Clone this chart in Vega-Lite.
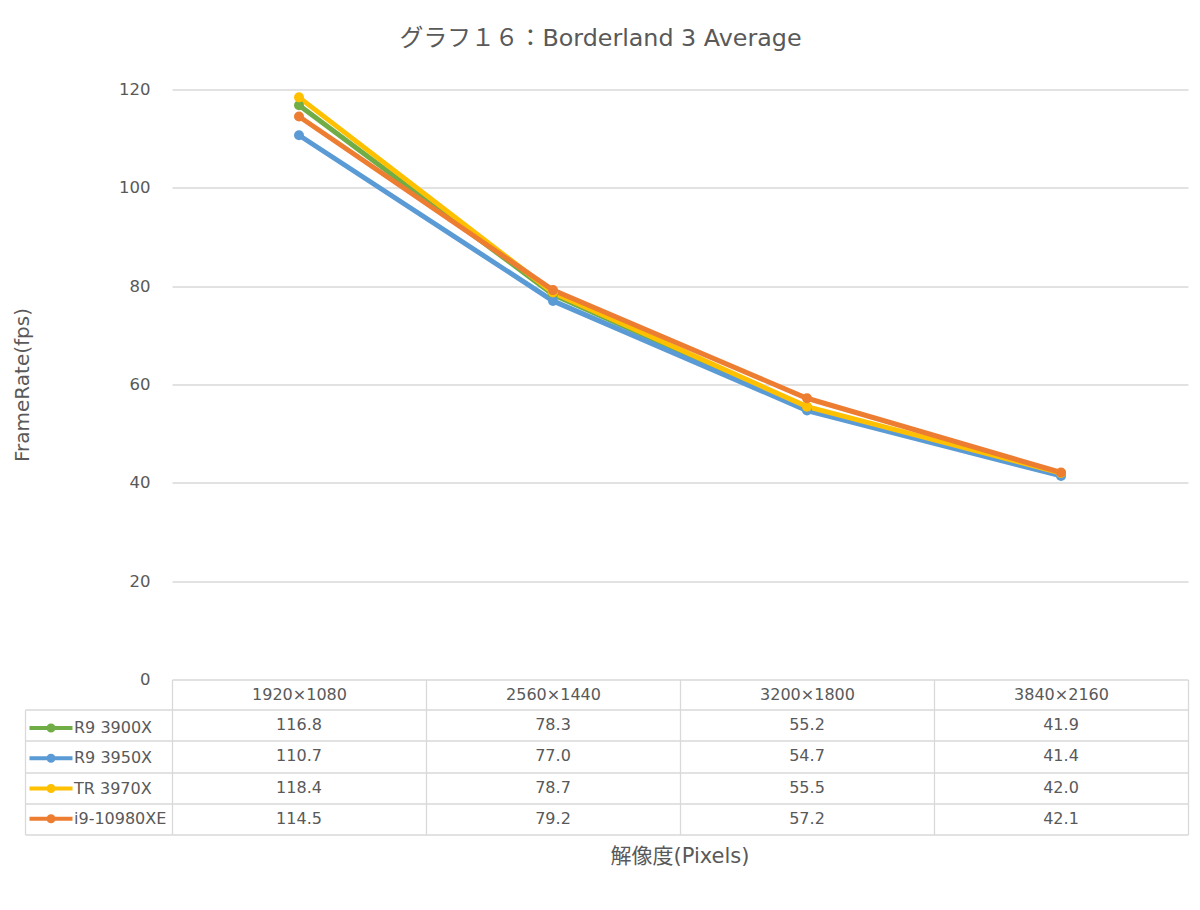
{
  "$schema": "https://vega.github.io/schema/vega-lite/v6.json",
  "autosize": {"type": "pad"},
  "padding": {"left": 12, "top": 26.5, "right": 10, "bottom": 10},
  "background": "white",
  "title": {
    "text": "グラフ１６：Borderland 3 Average",
    "fontSize": 23.8,
    "fontWeight": "normal",
    "color": "#595959",
    "anchor": "middle",
    "offset": 31.2
  },
  "config": {
    "font": "DejaVu Sans, Noto Sans CJK JP",
    "view": {"stroke": null}
  },
  "data": {
    "values": [
      {"res": "1920×1080", "cpu": "R9 3900X", "fps": 116.8},
      {"res": "2560×1440", "cpu": "R9 3900X", "fps": 78.3},
      {"res": "3200×1800", "cpu": "R9 3900X", "fps": 55.2},
      {"res": "3840×2160", "cpu": "R9 3900X", "fps": 41.9},
      {"res": "1920×1080", "cpu": "R9 3950X", "fps": 110.7},
      {"res": "2560×1440", "cpu": "R9 3950X", "fps": 77.0},
      {"res": "3200×1800", "cpu": "R9 3950X", "fps": 54.7},
      {"res": "3840×2160", "cpu": "R9 3950X", "fps": 41.4},
      {"res": "1920×1080", "cpu": "TR 3970X", "fps": 118.4},
      {"res": "2560×1440", "cpu": "TR 3970X", "fps": 78.7},
      {"res": "3200×1800", "cpu": "TR 3970X", "fps": 55.5},
      {"res": "3840×2160", "cpu": "TR 3970X", "fps": 42.0},
      {"res": "1920×1080", "cpu": "i9-10980XE", "fps": 114.5},
      {"res": "2560×1440", "cpu": "i9-10980XE", "fps": 79.2},
      {"res": "3200×1800", "cpu": "i9-10980XE", "fps": 57.2},
      {"res": "3840×2160", "cpu": "i9-10980XE", "fps": 42.1}
    ]
  },
  "bounds": "flush",
  "spacing": 30,
  "vconcat": [
    {
      "width": 1016,
      "height": 590,
      "mark": {"type": "line", "strokeWidth": 5, "point": {"filled": true, "size": 100, "opacity": 1}},
      "encoding": {
        "x": {
          "field": "res",
          "type": "nominal",
          "sort": ["1920×1080", "2560×1440", "3200×1800", "3840×2160"],
          "scale": {"type": "point", "padding": 0.5},
          "axis": null
        },
        "y": {
          "field": "fps",
          "type": "quantitative",
          "scale": {"domain": [0, 120], "nice": false},
          "axis": {
            "values": [0, 20, 40, 60, 80, 100, 120],
            "title": "FrameRate(fps)",
            "titleFontSize": 20,
            "titleFontWeight": "normal",
            "titleColor": "#595959",
            "titlePadding": 86,
            "labelFontSize": 16.5,
            "labelColor": "#595959",
            "labelPadding": 22,
            "ticks": false,
            "domain": false,
            "gridColor": "#d9d9d9",
            "gridWidth": 1.3
          }
        },
        "color": {
          "field": "cpu",
          "type": "nominal",
          "sort": ["R9 3900X", "R9 3950X", "TR 3970X", "i9-10980XE"],
          "scale": {
            "domain": ["R9 3900X", "R9 3950X", "TR 3970X", "i9-10980XE"],
            "range": ["#70ad47", "#5b9bd5", "#ffc000", "#ed7d31"]
          },
          "legend": {
            "orient": "none",
            "legendX": -133,
            "legendY": 626.5,
            "title": null,
            "padding": 0,
            "symbolType": "M -2.15 0 L 2.15 0 M 0.25 0 A 0.25 0.25 0 1 1 -0.25 0 A 0.25 0.25 0 1 1 0.25 0 Z",
            "symbolSize": 400,
            "symbolStrokeWidth": 4,
            "labelFontSize": 16,
            "labelColor": "#595959",
            "labelOffset": 11,
            "rowPadding": 7.25,
            "encode": {
              "symbols": {
                "update": {
                  "fill": {"scale": "color", "field": "value"},
                  "stroke": {"scale": "color", "field": "value"},
                  "strokeWidth": {"value": 4},
                  "opacity": {"value": 1}
                }
              }
            }
          }
        }
      }
    },
    {
      "width": 1016,
      "height": 125,
      "title": {
        "text": "解像度(Pixels)",
        "orient": "bottom",
        "anchor": "middle",
        "fontSize": 21,
        "fontWeight": "normal",
        "color": "#595959",
        "offset": 11
      },
      "mark": {"type": "text", "fontSize": 16, "color": "#595959", "baseline": "middle", "align": "center"},
      "encoding": {
        "x": {
          "field": "res",
          "type": "nominal",
          "sort": ["1920×1080", "2560×1440", "3200×1800", "3840×2160"],
          "scale": {"paddingInner": 0, "paddingOuter": 0},
          "axis": {
            "orient": "top",
            "title": null,
            "labelAngle": 0,
            "labelFontSize": 16,
            "labelColor": "#595959",
            "labelBaseline": "middle",
            "labelPadding": -15,
            "tickBand": "extent",
            "tickSize": 30,
            "tickColor": "#d9d9d9",
            "tickWidth": 1.3,
            "domain": false,
            "grid": true,
            "gridColor": "#d9d9d9",
            "gridWidth": 1.3
          }
        },
        "y": {
          "field": "cpu",
          "type": "nominal",
          "sort": ["R9 3900X", "R9 3950X", "TR 3970X", "i9-10980XE"],
          "scale": {"paddingInner": 0, "paddingOuter": 0},
          "axis": {
            "title": null,
            "labels": false,
            "offset": 147,
            "tickBand": "extent",
            "tickSize": -147,
            "tickColor": "#d9d9d9",
            "tickWidth": 1.3,
            "domain": true,
            "domainColor": "#d9d9d9",
            "domainWidth": 1.3,
            "grid": true,
            "gridColor": "#d9d9d9",
            "gridWidth": 1.3
          }
        },
        "text": {"field": "fps", "type": "quantitative", "format": ".1f"}
      }
    }
  ]
}
